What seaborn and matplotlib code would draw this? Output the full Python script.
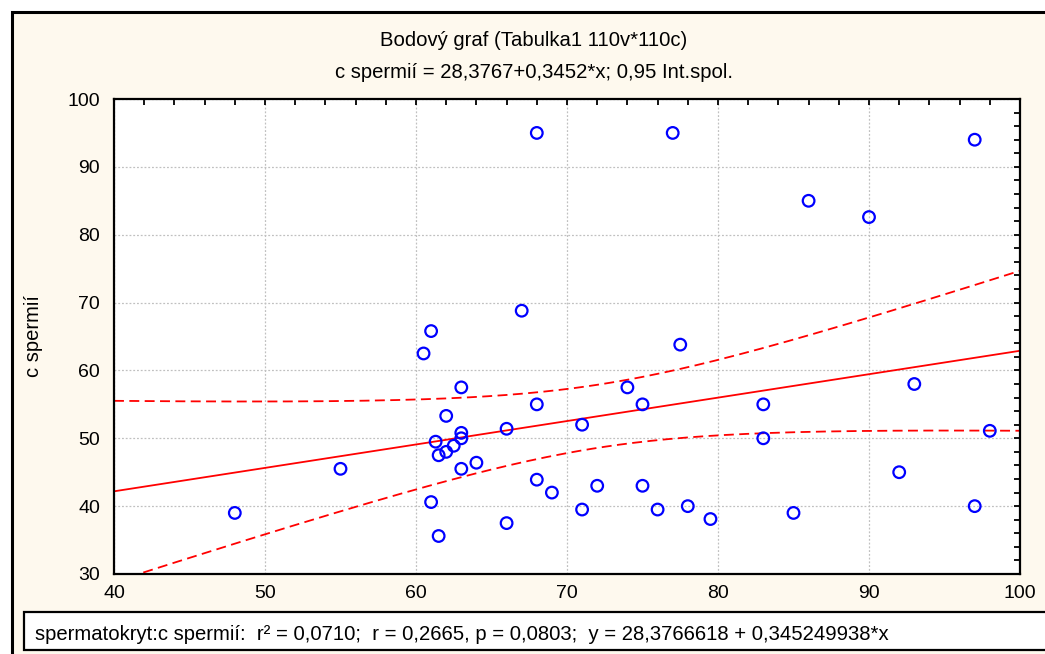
import numpy as np
import pandas as pd
import matplotlib
matplotlib.use('Agg')
import matplotlib.pyplot as plt
from matplotlib.patches import Rectangle
from matplotlib.ticker import MultipleLocator
import seaborn as sns

# values (spermatokryt vs c spermií)
spermatokryt = [48, 55, 60.5, 61, 67, 63, 62, 68, 63, 63, 66, 61.3, 62.5, 62, 61.5,
                64, 63, 68, 69, 61, 66, 61.5,
                68, 77, 97, 86, 90,
                77.5, 74, 75, 71, 83, 83, 93, 98, 92, 97, 72, 75, 71, 76, 78, 79.5, 85]
c_spermii = [39, 45.5, 62.5, 65.8, 68.8, 57.5, 53.3, 55, 50.8, 50, 51.4, 49.5, 48.9, 48, 47.5,
             46.4, 45.5, 43.9, 42, 40.6, 37.5, 35.6,
             95, 95, 94, 85, 82.6,
             63.8, 57.5, 55, 52, 55, 50, 58, 51.1, 45, 40, 43, 43, 39.5, 39.5, 40, 38.1, 39]

intercept = 28.3767
slope = 0.3452
t_crit = 2.018  # t(0.975, n-2)

df = pd.DataFrame({'x': spermatokryt, 'y': c_spermii})

# regression line and 95% confidence band for the mean
n = len(df)
resid = df['y'] - (intercept + slope * df['x'])
s = np.sqrt((resid ** 2).sum() / (n - 2))
xbar = df['x'].mean()
sxx = ((df['x'] - xbar) ** 2).sum()
xs = np.linspace(40, 100, 200)
fit = intercept + slope * xs
half = t_crit * s * np.sqrt(1 / n + (xs - xbar) ** 2 / sxx)
band = pd.DataFrame({'x': xs, 'fit': fit, 'lo': fit - half, 'hi': fit + half})

sns.set_style('white')
plt.rcParams['font.family'] = ['Liberation Sans', 'DejaVu Sans']
plt.rcParams['text.color'] = 'black'
plt.rcParams['xtick.color'] = 'black'
plt.rcParams['ytick.color'] = 'black'
plt.rcParams['axes.labelcolor'] = 'black'

CREAM = '#fef9ee'
fig = plt.figure(figsize=(10.45, 6.54), dpi=100, facecolor='white')
fig.patches.append(Rectangle((12 / 1045, -0.1), 1.2, 1.1 - 12 / 654, transform=fig.transFigure,
                             facecolor=CREAM, edgecolor='black', linewidth=2.2, zorder=-5))

ax = fig.add_axes([114 / 1045, 1 - 574 / 654, 906 / 1045, 475 / 654])
ax.set_facecolor('white')

sns.lineplot(data=band, x='x', y='fit', color='red', linewidth=1.3, ax=ax)
sns.lineplot(data=band, x='x', y='hi', color='red', linewidth=1.3, ax=ax)
sns.lineplot(data=band, x='x', y='lo', color='red', linewidth=1.3, ax=ax)
for ln in ax.lines[1:]:
    ln.set_linestyle((0, (5.5, 3)))
sns.scatterplot(data=df, x='x', y='y', marker='o', s=70, facecolors='none',
                edgecolor='#0000ff', linewidth=1.6, ax=ax, zorder=5)

ax.set_xlim(40, 100)
ax.set_ylim(30, 100)
ax.xaxis.set_major_locator(MultipleLocator(10))
ax.yaxis.set_major_locator(MultipleLocator(10))
ax.xaxis.set_minor_locator(MultipleLocator(2))
ax.yaxis.set_minor_locator(MultipleLocator(2))
ax.tick_params(which='both', direction='in', top=True, right=True, length=4, width=1.3,
               color='black', labelsize=14)
ax.tick_params(axis='x', pad=8)
ax.tick_params(axis='y', pad=10)
ax.grid(True, which='major', color='#c0c0c0', linestyle=(0, (1.5, 1.5)), linewidth=0.9)
for sp in ax.spines.values():
    sp.set_color('black')
    sp.set_linewidth(1.6)

ax.set_xlabel('')
ax.set_ylabel('c spermií', fontsize=14.5)
ax.yaxis.set_label_coords(-0.078, 0.5)

fig.text(534 / 1045, 1 - 40 / 654, 'Bodový graf (Tabulka1 110v*110c)', ha='center', va='center', fontsize=14.6)
fig.text(534 / 1045, 1 - 73 / 654, 'c spermií = 28,3767+0,3452*x; 0,95 Int.spol.', ha='center', va='center', fontsize=14.6)

fig.patches.append(Rectangle((24 / 1045, 1 - 650 / 654), 1.0, 38 / 654, transform=fig.transFigure,
                             facecolor='white', edgecolor='black', linewidth=1.6, zorder=1))
fig.text(35 / 1045, 1 - 634 / 654,
         'spermatokryt:c spermií:  r² = 0,0710;  r = 0,2665, p = 0,0803;  y = 28,3766618 + 0,345249938*x',
         ha='left', va='center', fontsize=14.6)

fig.savefig('out.png', dpi=100, facecolor='white')
